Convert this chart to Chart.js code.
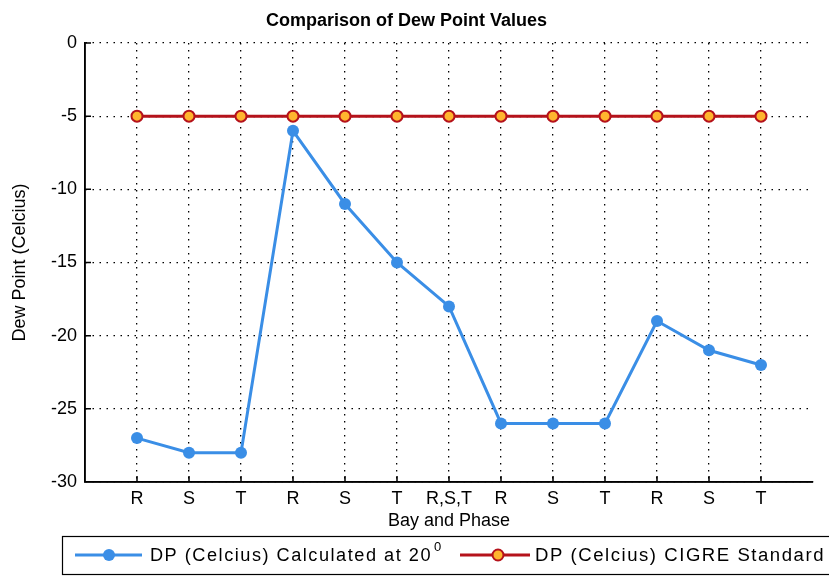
<!DOCTYPE html>
<html>
<head>
<meta charset="utf-8">
<script src="https://cdn.jsdelivr.net/npm/chart.js@4/dist/chart.umd.min.js"></script>
<style>
  html, body { margin: 0; padding: 0; background: #fff; }
  #wrap { width: 829px; height: 577px; }
</style>
</head>
<body>
<div id="wrap"><canvas id="dew"></canvas></div>
<script>
var phases = ['R','S','T','R','S','T','R,S,T','R','S','T','R','S','T'];
var calculated = [-27,-28,-28,-6,-11,-15,-18,-26,-26,-26,-19,-21,-22];
var cigre = [-5,-5,-5,-5,-5,-5,-5,-5,-5,-5,-5,-5,-5];
var yTicks = [0,-5,-10,-15,-20,-25,-30];

var FONT = "'Liberation Sans', Arial, sans-serif";
var BLUE = '#3a8ee6', RED = '#b5121b', GOLD = '#ffb52e';

function pts(arr) {
  return arr.map(function(v, i){ return {x: i + 1, y: v}; });
}

// text fitted to a given width (matlab screen font has loose spacing)
function fitText(c, txt, x, y, w) {
  c.save();
  if ('letterSpacing' in c) c.letterSpacing = '1.5px';
  var m = c.measureText(txt).width;
  c.translate(x, y);
  c.scale(w / m, 1);
  c.fillText(txt, 0, 0);
  c.restore();
}

// matlab style legend box with line + marker samples
var boxLegend = {
  id: 'boxLegend',
  afterDraw: function(chart) {
    var c = chart.ctx;
    var y = 555;
    c.save();
    c.strokeStyle = '#000';
    c.lineWidth = 1.2;
    c.strokeRect(62.5, 536.5, 800, 38);
    // blue sample
    c.strokeStyle = BLUE; c.lineWidth = 3;
    c.beginPath(); c.moveTo(75, y); c.lineTo(142, y); c.stroke();
    c.fillStyle = BLUE;
    c.beginPath(); c.arc(109, y, 6, 0, Math.PI*2); c.fill();
    c.fillStyle = '#000';
    c.font = '18px ' + FONT;
    c.textBaseline = 'middle';
    fitText(c, 'DP (Celcius) Calculated at 20', 150, y + 1, 282);
    c.font = '13px ' + FONT;
    c.fillText('0', 434, y - 8);
    // red sample
    c.strokeStyle = RED; c.lineWidth = 3;
    c.beginPath(); c.moveTo(460, y); c.lineTo(530, y); c.stroke();
    c.fillStyle = GOLD; c.strokeStyle = RED; c.lineWidth = 2;
    c.beginPath(); c.arc(498, y, 5.5, 0, Math.PI*2); c.fill(); c.stroke();
    c.fillStyle = '#000';
    c.font = '18px ' + FONT;
    fitText(c, 'DP (Celcius) CIGRE Standard', 535, y + 1, 290);
    c.restore();
  }
};

// solid left/bottom axes with inward tick marks
var solidAxes = {
  id: 'solidAxes',
  afterDatasetsDraw: function(chart) {
    var a = chart.chartArea, c = chart.ctx;
    var sx = chart.scales.x, sy = chart.scales.y;
    c.save();
    c.strokeStyle = '#000'; c.lineWidth = 1.5; c.setLineDash([]);
    c.beginPath();
    c.moveTo(a.left, a.top); c.lineTo(a.left, a.bottom); c.lineTo(a.right, a.bottom);
    phases.forEach(function(p, i){
      var px = sx.getPixelForValue(i + 1);
      c.moveTo(px, a.bottom); c.lineTo(px, a.bottom - 6);
    });
    yTicks.forEach(function(v){
      var py = sy.getPixelForValue(v);
      c.moveTo(a.left, py); c.lineTo(a.left + 6, py);
    });
    c.stroke();
    c.restore();
  }
};

var ctx = document.getElementById('dew');
var myChart = new Chart(ctx, {
  type: 'line',
  data: {
    datasets: [{
      label: 'DP (Celcius) Calculated at 20',
      data: pts(calculated),
      borderColor: BLUE,
      backgroundColor: BLUE,
      borderWidth: 3,
      pointRadius: 6,
      pointBorderWidth: 0,
      pointBackgroundColor: BLUE
    }, {
      label: 'DP (Celcius) CIGRE Standard',
      data: pts(cigre),
      borderColor: RED,
      backgroundColor: GOLD,
      borderWidth: 3,
      pointRadius: 5.5,
      pointBorderWidth: 2,
      pointBorderColor: RED,
      pointBackgroundColor: GOLD
    }]
  },
  options: {
    responsive: true,
    maintainAspectRatio: false,
    animation: false,
    layout: { padding: { left: 0, right: 16, top: 0, bottom: 45 } },
    plugins: {
      legend: { display: false },
      tooltip: { enabled: false },
      title: {
        display: true,
        text: 'Comparison of Dew Point Values',
        color: '#000',
        font: { family: FONT, size: 18, weight: 'bold' },
        padding: { top: 10, bottom: 11.4 }
      }
    },
    scales: {
      x: {
        type: 'linear',
        min: 0,
        max: 14,
        afterFit: function(s){ s.height = 50; },
        afterBuildTicks: function(s){
          s.ticks = phases.map(function(p, i){ return {value: i + 1}; });
        },
        ticks: {
          color: '#000',
          font: { family: FONT, size: 18 },
          padding: 6,
          autoSkip: false,
          maxRotation: 0,
          callback: function(v){ return phases[v - 1] || ''; }
        },
        grid: {
          color: '#000',
          lineWidth: 1.3,
          drawTicks: false
        },
        border: { display: true, color: '#000', width: 1.5, dash: [1.5, 5.5] },
        title: {
          display: true,
          text: 'Bay and Phase',
          color: '#000',
          font: { family: FONT, size: 18 },
          padding: { top: 2, bottom: 0 }
        }
      },
      y: {
        min: -30,
        max: 0,
        afterFit: function(s){ s.width = 85; },
        afterBuildTicks: function(s){
          s.ticks = yTicks.map(function(v){ return {value: v}; });
        },
        ticks: {
          color: '#000',
          font: { family: FONT, size: 18 },
          padding: 8
        },
        grid: {
          color: '#000',
          lineWidth: 1.3,
          drawTicks: false
        },
        border: { display: true, color: '#000', width: 1.5, dash: [1.5, 5.5] },
        title: {
          display: true,
          text: 'Dew Point (Celcius)',
          color: '#000',
          font: { family: FONT, size: 18 },
          padding: { top: 9, bottom: 0 }
        }
      }
    }
  },
  plugins: [boxLegend, solidAxes]
});
</script>
</body>
</html>
